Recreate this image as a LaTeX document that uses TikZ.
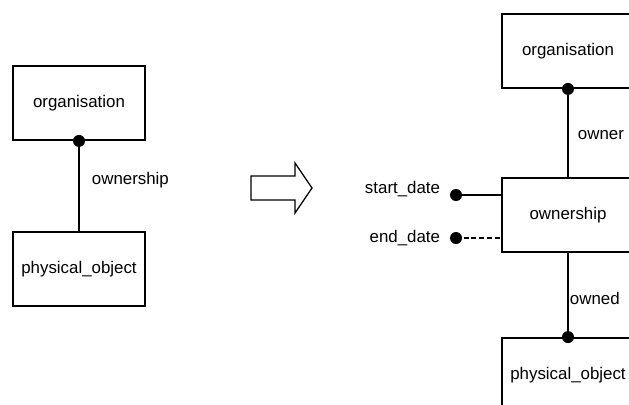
\documentclass[tikz,border=0pt]{standalone}
\usepackage{fontspec}
\setmainfont{Liberation Sans}
\usetikzlibrary{positioning}

\begin{document}
\begin{tikzpicture}[x=0.025cm,y=-0.025cm,
    every node/.style={font=\fontsize{12}{14}\selectfont},
    entity/.style={draw, line width=1.3pt, minimum width=3.3cm, minimum height=1.85cm, inner sep=0pt},
    link/.style={line width=1.3pt},
    optlink/.style={line width=1.9pt, dash pattern=on 3.5pt off 2pt},
    blob/.style={circle, fill, inner sep=0pt, minimum size=0.3cm}]
        \useasboundingbox (0,0) rectangle (629,404);
        % before: plain relationship
        \node[entity] (org1) at (79,103) {organisation};
        \node[entity] (phys1) at (79,269) {physical\_object};
        \draw[link] (org1.south) -- (phys1.north);
        \node[blob] at (org1.south) {};
        \node[anchor=west] (lab1) at (87,180) {ownership};
        % the arrow
        \draw[line width=0.9pt] (251,176) -- (295,176) -- (295,163) -- (312,188) -- (295,213) -- (295,200) -- (251,200) -- cycle;
        % after: relationship as entity
        \node[entity] (org2) at (568,51) {organisation};
        \node[entity] (own2) at (568,215) {ownership};
        \node[entity] (phys2) at (568,375) {physical\_object};
        \draw[link] (org2.south) -- (own2.north);
        \draw[link] (own2.south) -- (phys2.north);
        \node[blob] at (org2.south) {};
        \node[blob] at (phys2.north) {};
        \node[anchor=west] (lab2) at (573,135) {owner};
        \node[anchor=west] (lab3) at (565,298) {owned};
        \coordinate (sd) at (456,195);
        \coordinate (ed) at (456,238);
        \draw[link] (sd) -- (sd -| own2.west);
        \draw[optlink] (ed) -- (ed -| own2.west);
        \node[blob] at (sd) {};
        \node[blob] at (ed) {};
        \node[anchor=east] (sdlab) at (445,189) {start\_date};
        \node[anchor=east] (edlab) at (445,238) {end\_date};
    \end{tikzpicture}
\end{document}
